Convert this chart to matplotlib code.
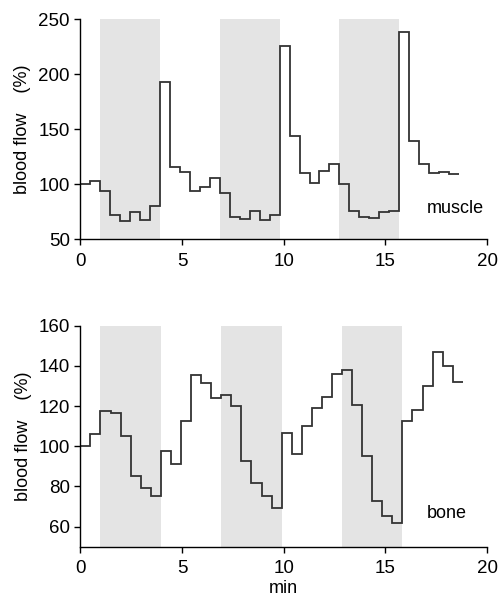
import matplotlib
matplotlib.use("Agg")
import matplotlib.pyplot as plt
import numpy as np

plt.rcParams['font.family'] = ['Liberation Sans', 'DejaVu Sans']

# sampling interval (min) of the two recordings
muscle_dt = 0.49
bone_dt = 0.495

muscle_flow = [100, 103, 94, 72, 67, 75, 68, 80.5, 193, 116, 111, 94, 98, 106,
               92, 70, 68.5, 76, 68, 72.6, 226, 144, 110, 101, 112, 118, 100,
               76, 70, 69, 75, 76, 238, 139.5, 118.6, 110, 111, 109]
bone_flow = [100, 106, 117.8, 116.6, 105.2, 85.2, 79.4, 75.4, 97.5, 91.2,
             112.7, 135.7, 131.3, 124, 125.6, 120.3, 92.7, 81.8, 75.4, 69.1,
             106.7, 96, 110.2, 119, 124.5, 136.2, 137.9, 120.8, 95.4, 72.5,
             65.3, 61.8, 112.7, 118, 129.8, 147, 139.9, 132.1]

# shaded periods, given as sample indices (start, end)
shade_samples = [(2, 8), (14, 20), (26, 32)]

LINE = '#333333'
SHADE = '#e4e4e4'


def draw_panel(axis, values, dt, ylim, yticks, name, name_y):
    """One step trace with grey shaded periods"""
    edges = np.arange(len(values) + 1) * dt
    for start, end in shade_samples:
        axis.axvspan(edges[start], edges[end], color=SHADE, lw=0, zorder=0)
    axis.stairs(values, edges, baseline=None, color=LINE, lw=1.3, zorder=2)
    axis.set_xlim(0, 20)
    axis.set_ylim(*ylim)
    axis.set_xticks([0, 5, 10, 15, 20])
    axis.set_yticks(yticks)
    for side in ('top', 'right'):
        axis.spines[side].set_visible(False)
    for side in ('left', 'bottom'):
        axis.spines[side].set_linewidth(1.0)
    axis.tick_params(axis='both', labelsize=13.5, length=4, width=1.0)
    axis.tick_params(axis='x', pad=5.5)
    axis.tick_params(axis='y', pad=3.5)
    axis.set_ylabel('blood flow    (%)', fontsize=13, labelpad=5)
    axis.text(0.852, name_y, name, transform=axis.transAxes, fontsize=13,
              ha='left', va='center')


fig = plt.figure(figsize=(4.99, 5.97), dpi=100)
ax_top = fig.add_axes([0.161, 0.599, 0.815, 0.369])
ax_bot = fig.add_axes([0.161, 0.0843, 0.815, 0.370])

draw_panel(ax_top, muscle_flow, muscle_dt, (50, 250),
           [50, 100, 150, 200, 250], 'muscle', 0.141)
draw_panel(ax_bot, bone_flow, bone_dt, (50, 160),
           [60, 80, 100, 120, 140, 160], 'bone', 0.151)
ax_bot.set_xlabel('min', fontsize=13, labelpad=2.5)

fig.savefig("out.png", dpi=100)
plt.close()
